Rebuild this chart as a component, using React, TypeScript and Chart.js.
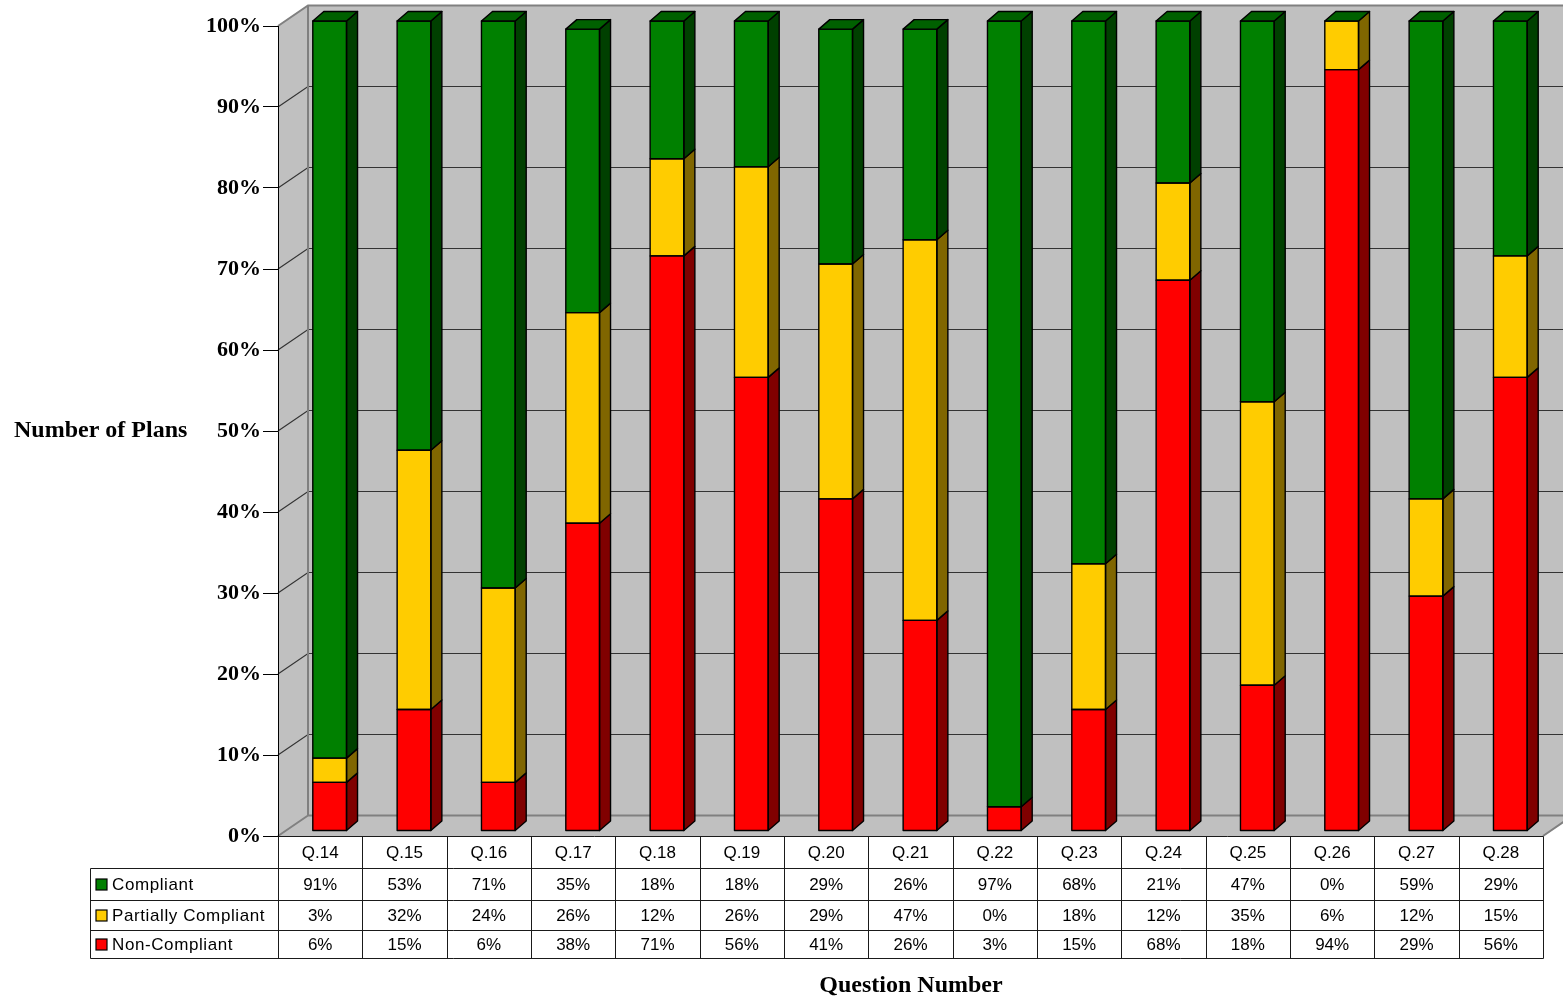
import React, { useEffect, useRef } from 'react';
import { Chart, registerables } from 'chart.js';

Chart.register(...registerables);

const categories = ['Q.14', 'Q.15', 'Q.16', 'Q.17', 'Q.18', 'Q.19', 'Q.20', 'Q.21', 'Q.22', 'Q.23', 'Q.24', 'Q.25', 'Q.26', 'Q.27', 'Q.28'];
const compliant = [91, 53, 71, 35, 18, 18, 29, 26, 97, 68, 21, 47, 0, 59, 29];
const partiallyCompliant = [3, 32, 24, 26, 12, 26, 29, 47, 0, 18, 12, 35, 6, 12, 15];
const nonCompliant = [6, 15, 6, 38, 71, 56, 41, 26, 3, 15, 68, 18, 94, 29, 56];

const seriesNames = ['Compliant', 'Partially Compliant', 'Non-Compliant'];
const seriesValues = [compliant, partiallyCompliant, nonCompliant];
const frontColors = ['#008000', '#FFCC00', '#FF0000'];
const sideColors = ['#004000', '#806600', '#800000'];
const topColors = ['#006000', '#CCA300', '#CC0000'];

const yTitle = 'Number of Plans';
const xTitle = 'Question Number';

const W = 1563;
const H = 999;
const WALL = { dx: 30, dy: -20.5 };
const BAR_SHIFT = { dx: 9.5, dy: -5 };
const BAR_DEPTH = { dx: 11, dy: -9.5 };
const SERIF = "'Liberation Serif', 'Times New Roman', serif";
const SANS = "'Liberation Sans', Arial, sans-serif";
const ROWS = [836, 868, 900, 930, 958];
const TABLE_LEFT = 90;

function poly(ctx: CanvasRenderingContext2D, pts: number[][]) {
  ctx.beginPath();
  ctx.moveTo(pts[0][0], pts[0][1]);
  for (let i = 1; i < pts.length; i++) ctx.lineTo(pts[i][0], pts[i][1]);
  ctx.closePath();
}

const threeD = {
  id: 'threeD',
  beforeDraw(chart: any) {
    const { ctx, chartArea: a, scales } = chart;
    const y = scales.y;
    const L = a.left, T = a.top, B = a.bottom, R = a.right;
    const dx = WALL.dx, dy = WALL.dy;
    const far = W + 60;
    ctx.save();
    ctx.fillStyle = '#C0C0C0';
    ctx.fillRect(L + dx, T + dy, far - (L + dx), B - T);
    poly(ctx, [[L, T], [L + dx, T + dy], [L + dx, B + dy], [L, B]]);
    ctx.fill();
    poly(ctx, [[L, B], [R, B], [R + dx, B + dy], [L + dx, B + dy]]);
    ctx.fill();
    ctx.strokeStyle = '#333333';
    ctx.lineWidth = 1.2;
    for (let v = 10; v < 100; v += 10) {
      const yp = y.getPixelForValue(v);
      ctx.beginPath();
      ctx.moveTo(L, yp);
      ctx.lineTo(L + dx, yp + dy);
      ctx.lineTo(far, yp + dy);
      ctx.stroke();
    }
    ctx.strokeStyle = '#808080';
    ctx.lineWidth = 2;
    ctx.beginPath();
    ctx.moveTo(L, T);
    ctx.lineTo(L + dx, T + dy);
    ctx.lineTo(far, T + dy);
    ctx.moveTo(L + dx, T + dy);
    ctx.lineTo(L + dx, B + dy);
    ctx.lineTo(far, B + dy);
    ctx.moveTo(L, B);
    ctx.lineTo(L + dx, B + dy);
    ctx.moveTo(R, B);
    ctx.lineTo(R + dx, B + dy);
    ctx.stroke();
    ctx.restore();
  },
  beforeDatasetsDraw(chart: any) {
    chart.ctx.save();
    chart.ctx.translate(BAR_SHIFT.dx, BAR_SHIFT.dy);
  },
  afterDatasetsDraw(chart: any) {
    const { ctx, chartArea: a } = chart;
    const n = chart.data.labels.length;
    const nd = chart.data.datasets.length;
    const metas = chart.data.datasets.map((_: any, i: number) => chart.getDatasetMeta(i));
    const dx = BAR_DEPTH.dx, dy = BAR_DEPTH.dy;
    ctx.lineJoin = 'round';
    for (let j = 0; j < n; j++) {
      for (let i = 0; i < nd; i++) {
        const el = metas[i].data[j];
        if (!el) continue;
        const p = el.getProps(['x', 'y', 'base', 'width'], true);
        const x0 = p.x - p.width / 2;
        const x1 = p.x + p.width / 2;
        const yt = Math.max(Math.min(p.y, p.base), a.top);
        const yb = Math.max(Math.max(p.y, p.base), a.top);
        const ds = chart.data.datasets[i];
        ctx.strokeStyle = '#000';
        ctx.lineWidth = 1.4;
        if (yb - yt > 0.01) {
          poly(ctx, [[x1, yt], [x1 + dx, yt + dy], [x1 + dx, yb + dy], [x1, yb]]);
          ctx.fillStyle = ds.sideColor;
          ctx.fill();
          ctx.stroke();
          ctx.strokeRect(x0, yt, x1 - x0, yb - yt);
        }
        if (i === nd - 1) {
          poly(ctx, [[x0, yt], [x0 + dx, yt + dy], [x1 + dx, yt + dy], [x1, yt]]);
          ctx.fillStyle = ds.topColor;
          ctx.fill();
          ctx.stroke();
        }
      }
    }
    ctx.restore();
  },
  afterDraw(chart: any) {
    const { ctx, scales } = chart;
    const xs = scales.x;
    const n = categories.length;
    const half = (xs.getPixelForValue(1) - xs.getPixelForValue(0)) / 2;
    const edges: number[] = [];
    for (let j = 0; j < n; j++) edges.push(xs.getPixelForValue(j) - half);
    edges.push(xs.getPixelForValue(n - 1) + half);
    const px = (v: number) => Math.round(v) + 0.5;
    ctx.save();
    ctx.strokeStyle = '#1a1a1a';
    ctx.lineWidth = 1;
    ctx.beginPath();
    ctx.moveTo(px(edges[0]), px(ROWS[0]));
    ctx.lineTo(px(edges[n]), px(ROWS[0]));
    for (let r = 1; r < ROWS.length; r++) {
      ctx.moveTo(px(TABLE_LEFT), px(ROWS[r]));
      ctx.lineTo(px(edges[n]), px(ROWS[r]));
    }
    for (let j = 0; j <= n; j++) {
      ctx.moveTo(px(edges[j]), px(ROWS[0]));
      ctx.lineTo(px(edges[j]), px(ROWS[ROWS.length - 1]));
    }
    ctx.moveTo(px(TABLE_LEFT), px(ROWS[1]));
    ctx.lineTo(px(TABLE_LEFT), px(ROWS[ROWS.length - 1]));
    ctx.stroke();

    ctx.fillStyle = '#000';
    ctx.font = `17px ${SANS}`;
    ctx.textAlign = 'center';
    ctx.textBaseline = 'middle';
    for (let j = 0; j < n; j++) {
      const cx = xs.getPixelForValue(j);
      ctx.fillText(categories[j], cx, (ROWS[0] + ROWS[1]) / 2 + 1);
      for (let r = 0; r < seriesValues.length; r++) {
        ctx.fillText(seriesValues[r][j] + '%', cx, (ROWS[r + 1] + ROWS[r + 2]) / 2 + 1);
      }
    }
    ctx.textAlign = 'left';
    (ctx as any).letterSpacing = '0.6px';
    for (let r = 0; r < seriesNames.length; r++) {
      const cy = (ROWS[r + 1] + ROWS[r + 2]) / 2;
      ctx.fillStyle = frontColors[r];
      ctx.fillRect(96, cy - 5, 11, 11);
      ctx.strokeStyle = '#000';
      ctx.lineWidth = 1.2;
      ctx.strokeRect(96, cy - 5, 11, 11);
      ctx.fillStyle = '#000';
      ctx.fillText(seriesNames[r], 112, cy + 1);
    }
    (ctx as any).letterSpacing = '0px';

    ctx.font = `bold 24px ${SERIF}`;
    ctx.textAlign = 'left';
    ctx.fillText(yTitle, 14, 431);
    ctx.textAlign = 'center';
    ctx.fillText(xTitle, 911, 986);
    ctx.restore();
  },
};

export default function App() {
  const ref = useRef<HTMLCanvasElement | null>(null);
  useEffect(() => {
    if (!ref.current) return;
    const stackOrder = [2, 1, 0];
    const chart = new Chart(ref.current, {
      type: 'bar',
      data: {
        labels: categories,
        datasets: stackOrder.map((r) => ({
          label: seriesNames[r],
          data: seriesValues[r],
          backgroundColor: frontColors[r],
          sideColor: sideColors[r],
          topColor: topColors[r],
          borderWidth: 0,
          barPercentage: 0.4,
          categoryPercentage: 1,
          clip: 0,
        })) as any,
      },
      options: {
        responsive: false,
        maintainAspectRatio: false,
        animation: false,
        devicePixelRatio: 1,
        layout: { padding: { left: 0, top: 26, right: 20, bottom: H - 836 } },
        plugins: { legend: { display: false }, tooltip: { enabled: false } },
        scales: {
          x: { stacked: true, display: false },
          y: {
            stacked: true,
            min: 0,
            max: 100,
            afterFit: (scale: any) => {
              scale.width = 278;
            },
            ticks: {
              stepSize: 10,
              padding: 2,
              color: '#000',
              font: { family: SERIF, size: 22, weight: 'bold' },
              callback: (v: any) => v + '%',
            },
            grid: { drawOnChartArea: false, drawTicks: true, tickLength: 15, color: '#000', lineWidth: 1 },
            border: { display: true, color: '#000', width: 1 },
          },
        },
      },
      plugins: [threeD],
    } as any);
    return () => chart.destroy();
  }, []);
  return (
    <div style={{ position: 'absolute', left: 0, top: 0, width: W, height: H, background: '#fff' }}>
      <canvas ref={ref} width={W} height={H} style={{ display: 'block' }} />
    </div>
  );
}
